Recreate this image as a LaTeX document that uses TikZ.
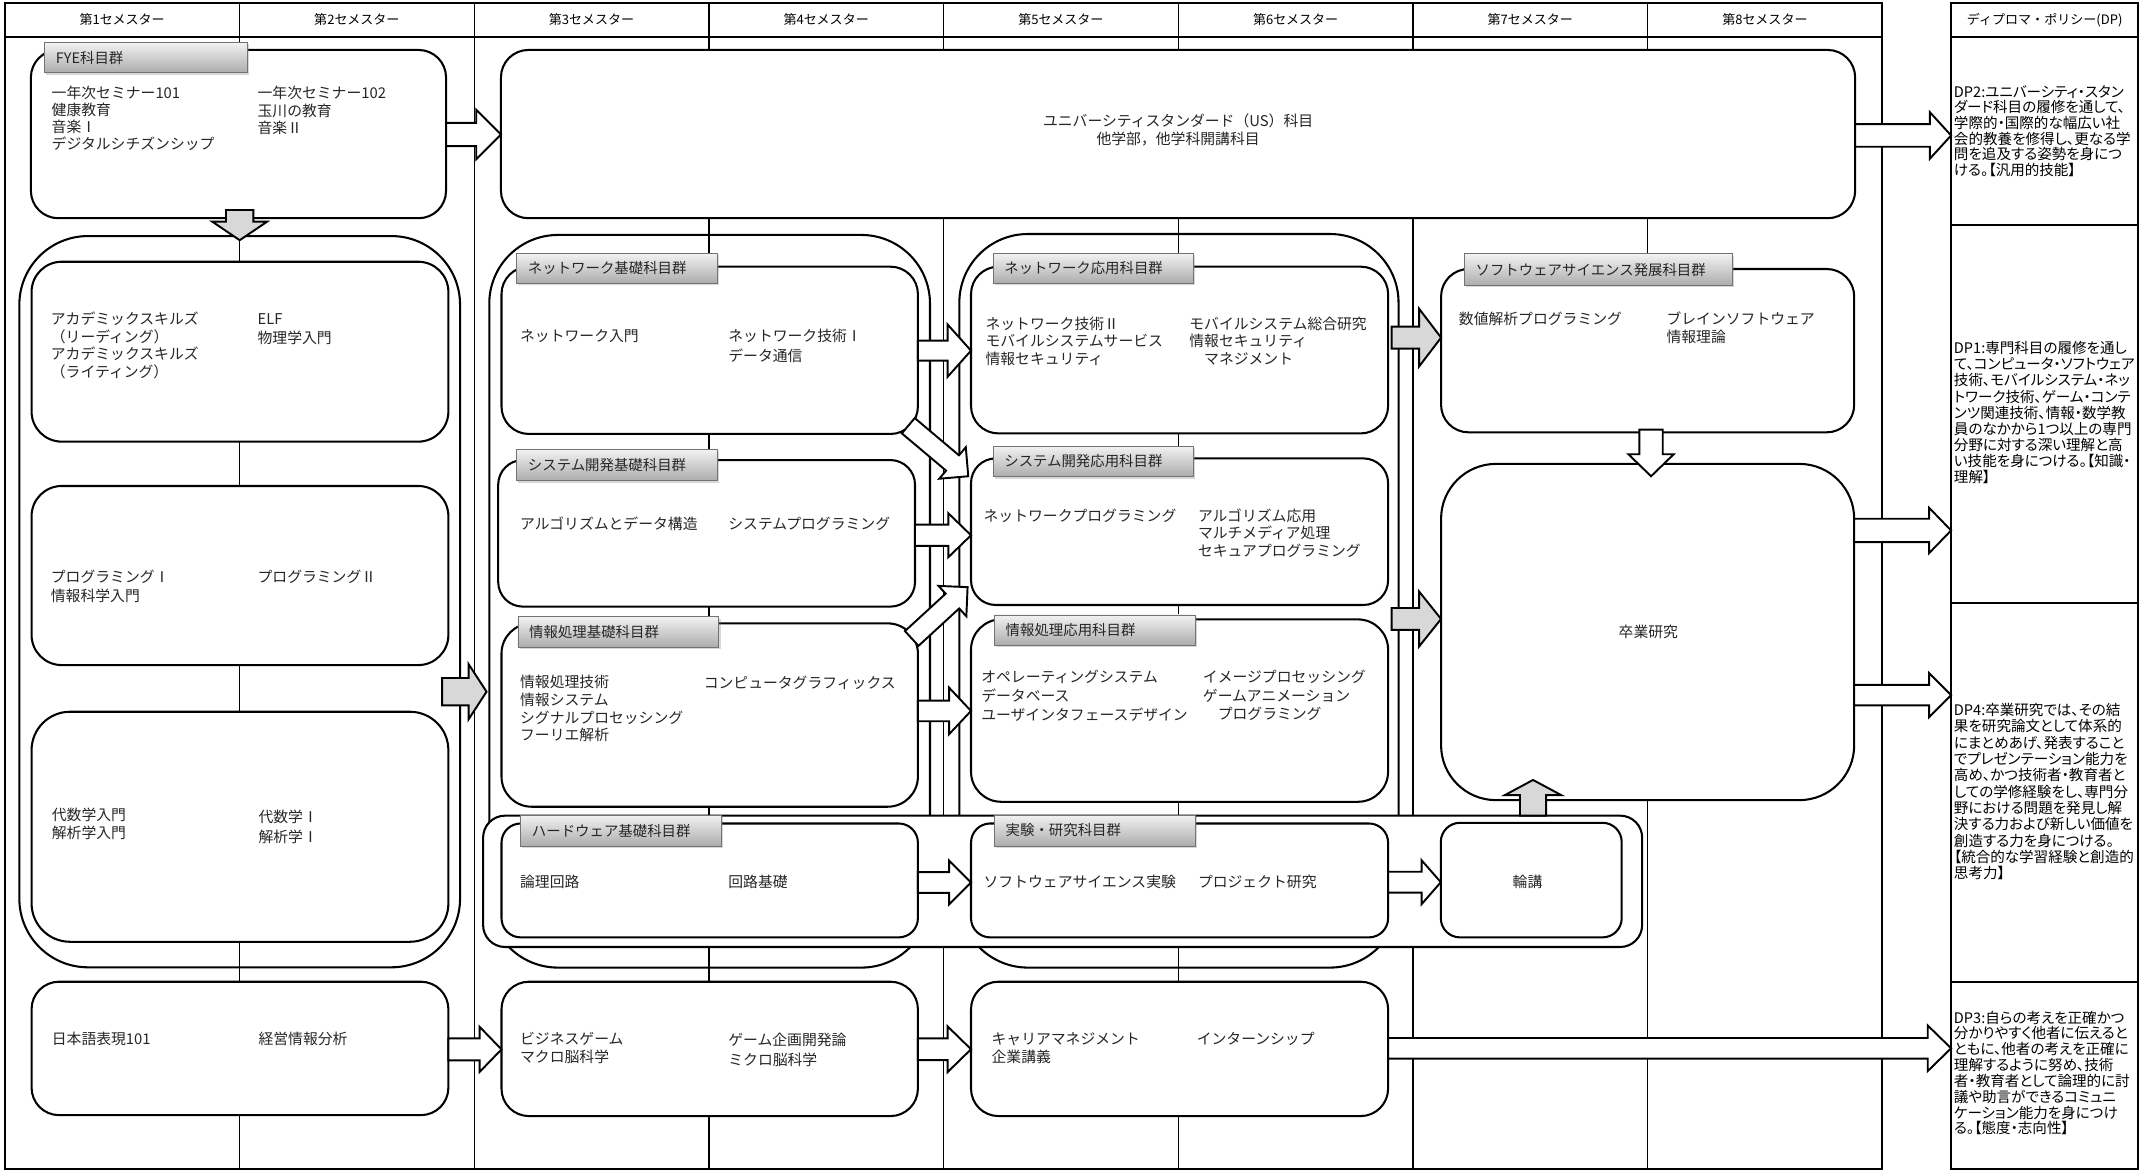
\documentclass[tikz,border=0pt]{standalone}
\usepackage{fontspec}
\setmainfont{Noto Sans CJK JP}
\newfontfamily\dpf{Noto Sans CJK JP}[RawFeature=+palt]
\usetikzlibrary{calc,shadows}
\definecolor{agray}{RGB}{216,216,216}
\definecolor{tabtop}{RGB}{242,242,242}
\definecolor{tabbot}{RGB}{172,172,172}
% block arrow: fill, from, to, shaft half width, head half width, head length
\newcommand\barrow[6]{%
  \coordinate (ba) at (#2);
  \coordinate (bb) at (#3);
  \coordinate (bc) at ($(bb)!#6pt!(ba)$);
  \draw[blockarrow, fill=#1]
    ($(ba)!#4pt!90:(bb)$) -- ($(bc)!#4pt!90:(bb)$) -- ($(bc)!#5pt!90:(bb)$) -- (bb)
    -- ($(bc)!#5pt!-90:(bb)$) -- ($(bc)!#4pt!-90:(bb)$) -- ($(ba)!#4pt!-90:(bb)$) -- cycle;
}
% rounded box: [style]{name}{x1}{y1}{x2}{y2}{radius}
\newcommand\rbox[7][cbox]{%
  \node[#1, rounded corners=#7pt, minimum width={(#5-#3)*1pt}, minimum height={(#6-#4)*1pt}, anchor=north west] (#2) at (#3,#4) {};
}
% plain cell
\newcommand\cell[5]{%
  \node[dpcell, minimum width={(#4-#2)*1pt}, minimum height={(#5-#3)*1pt}, anchor=north west] (#1) at (#2,#3) {};
}
% tab: name x1 y1 x2 y2 text
\newcommand\tabbox[6]{%
  \node[tabst, minimum width={(#4-#2)*1pt}, minimum height={(#5-#3)*1pt}, anchor=north west] (#1) at (#2,#3) {};
  \node[tabtxt] (#1t) at ($(#1.west)+(8,0)$) {#6};
}
\newcommand\tlines[5]{\foreach \s [count=\i] in {#5} {\node[course] (#1\i) at (#2,{#3+(\i-1)*#4+4.1}) {\s};}}
\newcommand\dplines[5]{\foreach \s [count=\i] in {#5} {\node[dptxt] (#1\i) at (#2,{#3+(\i-1)*#4+4.0}) {\s};}}

\begin{document}
\begin{tikzpicture}[x=1pt,y=-1pt,
  tbl/.style={line width=1.5pt},
  colline/.style={line width=1pt},
  cbox/.style={draw, line width=1.5pt, fill=white, inner sep=0pt, outer sep=0pt, rectangle},
  gbox/.style={draw, line width=1.5pt, inner sep=0pt, outer sep=0pt, rectangle},
  dpcell/.style={draw, line width=1.5pt, inner sep=0pt, outer sep=0pt, rectangle},
  tabst/.style={draw=black!55, line width=0.6pt, top color=tabtop, bottom color=tabbot, inner sep=0pt, outer sep=0pt, rectangle,
                drop shadow={shadow xshift=1.2pt, shadow yshift=-1.4pt, opacity=0.3}},
  tabtxt/.style={font=\fontsize{10.5}{12}\selectfont, inner sep=0pt, anchor=west, text=black!85},
  course/.style={font=\fontsize{10.8}{13}\selectfont, inner sep=0pt, anchor=base west, text=black!85},
  dptxt/.style={font=\dpf\fontsize{10.6}{12}\selectfont, inner sep=0pt, anchor=base west},
  hdr/.style={font=\fontsize{9.5}{11}\selectfont, inner sep=0pt},
  blockarrow/.style={draw=black, line width=1.4pt, line join=miter}
]
\fill[white] (0,0) rectangle (1568,853);
\useasboundingbox (0,0) rectangle (1568,853);

% ---------- table ----------
\draw[tbl] (3.5,2) rectangle (1371.5,852);
\draw[line width=1.6pt] (3.5,27) -- (1371.5,27);
\foreach \i in {1,...,7} \draw[colline] ({3.5+171*\i},2) -- ({3.5+171*\i},852);
\foreach \i in {1,...,8} \node[hdr] (h\i) at ({3.5+171*(\i-0.5)},14.5) {第\i セメスター};

% DP column
\cell{dph}{1421.6}{2}{1558}{27}
\cell{dp2}{1421.6}{27}{1558}{164}
\cell{dp1}{1421.6}{164}{1558}{439.6}
\cell{dp4}{1421.6}{439.6}{1558}{715.3}
\cell{dp3}{1421.6}{715.3}{1558}{852}
\node[hdr] (dphT) at (dph.center) {ディプロマ・ポリシー(DP)};

% ---------- group outlines ----------
\rbox[gbox]{grpL}{14.1}{172}{335.2}{704.8}{50}
\rbox[gbox]{grpM}{356.5}{171.2}{677.6}{705}{50}
\rbox[gbox]{grp56}{699}{170.5}{1019}{705}{50}
\rbox{band}{352}{594.3}{1196.5}{690}{16}

% ---------- boxes ----------
\rbox{fye}{22.5}{36.4}{325}{159}{20}
\rbox{us}{365}{36.4}{1351.7}{159}{20}
\rbox{acad}{23}{190.7}{326.7}{321.8}{22}
\rbox{prog}{23}{354.1}{326.7}{484.6}{22}
\rbox{math}{23}{518.6}{326.7}{686.2}{28}
\rbox{jp}{23}{715.3}{326.7}{812.5}{20}
\rbox{nwb}{365.4}{194.3}{668.8}{316.2}{20}
\rbox{sysb}{363}{335.2}{666.7}{442}{18}
\rbox{infob}{365.4}{454.2}{668.8}{587.8}{22}
\rbox{hw}{365.4}{600}{668.8}{683}{14}
\rbox{biz}{365.4}{715.3}{668.8}{813.2}{20}
\rbox{nwa}{707.5}{194.3}{1011.4}{315.8}{20}
\rbox{sysa}{707.5}{334}{1011.4}{440.8}{18}
\rbox{infoa}{707.5}{451.3}{1011.4}{584.2}{22}
\rbox{exp}{707.5}{600}{1011.4}{683}{14}
\rbox{career}{707.5}{715.3}{1011.4}{813.2}{20}
\rbox{sws}{1050}{196}{1351}{315}{20}
\rbox{grad}{1050}{338}{1351}{583}{40}
\rbox{rinko}{1049.8}{599.5}{1181.6}{683}{14}

% ---------- tabs ----------
\tabbox{tfye}{32.6}{31}{180}{53}{FYE科目群}
\tabbox{tnwb}{376.5}{184.6}{522.9}{206.4}{ネットワーク基礎科目群}
\tabbox{tsysb}{376.5}{327.4}{522.9}{350.2}{システム開発基礎科目群}
\tabbox{tinfb}{377.4}{449.3}{523.8}{471.7}{情報処理基礎科目群}
\tabbox{thw}{379.4}{593.9}{525.6}{616.4}{ハードウェア基礎科目群}
\tabbox{tnwa}{723.6}{184.6}{869.6}{206.4}{ネットワーク応用科目群}
\tabbox{tsysa}{723.6}{325}{869.6}{347.3}{システム開発応用科目群}
\tabbox{tinfa}{724.6}{448.1}{871}{470}{情報処理応用科目群}
\tabbox{texp}{724.6}{593.9}{871}{616.4}{実験・研究科目群}
\tabbox{tsws}{1067}{185}{1262}{208}{ソフトウェアサイエンス発展科目群}

% ---------- texts ----------
\tlines{fyeA}{37.5}{68}{12.3}{一年次セミナー101, 健康教育, 音楽Ⅰ, デジタルシチズンシップ}
\tlines{fyeB}{187.5}{68}{12.6}{一年次セミナー102, 玉川の教育, 音楽Ⅱ}
\node[course, anchor=base] (usA) at (858.4,{88+4.1}) {ユニバーシティスタンダード（US）科目};
\node[course, anchor=base] (usB) at (858.4,{101+4.1}) {他学部，他学科開講科目};
\tlines{acA}{36.9}{232.7}{12.7}{アカデミックスキルズ, （リーディング）, アカデミックスキルズ, （ライティング）}
\tlines{acB}{187.5}{232.7}{13.3}{ELF, 物理学入門}
\tlines{prA}{36.9}{420.2}{14.1}{プログラミングⅠ, 情報科学入門}
\tlines{prB}{187.5}{420.2}{13}{プログラミングⅡ}
\tlines{maA}{37.6}{593.9}{12.8}{代数学入門, 解析学入門}
\tlines{maB}{188.2}{595.1}{14.5}{代数学Ⅰ, 解析学Ⅰ}
\tlines{jpA}{37.6}{757.3}{13}{日本語表現101}
\tlines{jpB}{188.2}{757.3}{13}{経営情報分析}
\tlines{nwbA}{378.8}{244.8}{13}{ネットワーク入門}
\tlines{nwbB}{530.5}{244.8}{14.6}{ネットワーク技術Ⅰ, データ通信}
\tlines{sysbA}{378.8}{381.8}{13}{アルゴリズムとデータ構造}
\tlines{sysbB}{530.5}{381.8}{13}{システムプログラミング}
\tlines{infbA}{378.8}{496.7}{13}{情報処理技術, 情報システム, シグナルプロセッシング, フーリエ解析}
\tlines{infbB}{512.6}{497.9}{13}{コンピュータグラフィックス}
\tlines{hwA}{378.8}{642.4}{13}{論理回路}
\tlines{hwB}{530.5}{642.4}{13}{回路基礎}
\tlines{bizA}{378.8}{757.3}{13.1}{ビジネスゲーム, マクロ脳科学}
\tlines{bizB}{530.5}{757.8}{14.6}{ゲーム企画開発論, ミクロ脳科学}
\tlines{nwaA}{717.9}{236}{12.6}{ネットワーク技術Ⅱ, モバイルシステムサービス, 情報セキュリティ}
\tlines{nwaB}{866.4}{236}{12.6}{モバイルシステム総合研究, 情報セキュリティ, 　マネジメント}
\tlines{sysaA}{716.5}{376}{13}{ネットワークプログラミング}
\tlines{sysaB}{872.7}{376}{12.6}{アルゴリズム応用, マルチメディア処理, セキュアプログラミング}
\tlines{infaA}{714.8}{493.5}{13.7}{オペレーティングシステム, データベース, ユーザインタフェースデザイン}
\tlines{infaB}{876.3}{493.5}{13.2}{イメージプロセッシング, ゲームアニメーション, 　プログラミング}
\tlines{expA}{716.5}{642.4}{13}{ソフトウェアサイエンス実験}
\tlines{expB}{872.7}{642.4}{13}{プロジェクト研究}
\tlines{carA}{722.3}{757.3}{13.1}{キャリアマネジメント, 企業講義}
\tlines{carB}{871.8}{757.3}{13}{インターンシップ}
\tlines{swsA}{1062.8}{232.7}{13}{数値解析プログラミング}
\tlines{swsB}{1214.1}{232.7}{13.1}{ブレインソフトウェア, 情報理論}
\node[course, anchor=base] (gradT) at (1201,{460.3+4.1}) {卒業研究};
\node[course, anchor=base] (rinkoT) at (1113,{642.4+4.1}) {輪講};

% DP texts
\dplines{dpTwo}{1423.5}{66.8}{11.4}{DP2:ユニバーシティ・スタン, ダード科目の履修を通して、, 学際的・国際的な幅広い社, 会的教養を修得し、更なる学, 問を追及する姿勢を身につ, ける。【汎用的技能】}
\dplines{dpOne}{1423.5}{253.6}{11.78}{DP1:専門科目の履修を通し, て、コンピュータ・ソフトウェア, 技術、モバイルシステム・ネッ, トワーク技術、ゲーム・コンテ, ンツ関連技術、情報・数学教, 員のなかから1つ以上の専門, 分野に対する深い理解と高, い技能を身につける。【知識・, 理解】}
\dplines{dpFour}{1423.5}{517.3}{11.9}{DP4:卒業研究では、その結, 果を研究論文として体系的, にまとめあげ、発表すること, でプレゼンテーション能力を, 高め、かつ技術者・教育者と, しての学修経験をし、専門分, 野における問題を発見し解, 決する力および新しい価値を, 創造する力を身につける。, 【統合的な学習経験と創造的, 思考力】}
\dplines{dpThree}{1423.5}{741.5}{11.53}{DP3:自らの考えを正確かつ, 分かりやすく他者に伝えると, ともに、他者の考えを正確に, 理解するように努め、技術, 者・教育者として論理的に討, 議や助言ができるコミュニ, ケーション能力を身につけ, る。【態度・志向性】}

% ---------- arrows ----------
\barrow{white}{fye.east |- 0,98}{us.west |- 0,98}{8.5}{18}{18}
\barrow{white}{us.east |- 0,98.7}{dp2.west |- 0,98.7}{8.2}{17}{15.5}
\barrow{agray}{$(grpL.north |- fye.south)+(0,-6)$}{$(grpL.north)+(0,3)$}{10}{20}{13.5}
\barrow{agray}{$(grpL.east |- 0,504)+(-13,0)$}{$(grpM.west |- 0,504)+(-2,0)$}{10}{20}{13}
\barrow{white}{jp.east |- 0,764.6}{biz.west |- 0,764.6}{8}{16.5}{16}
\barrow{white}{nwb.east |- 0,255.5}{nwa.west |- 0,255.5}{7.3}{19}{17}
\barrow{white}{$(nwb.south east)+(-7,-6)$}{$(sysa.north west)+(-2,13)$}{7.3}{15}{15}
\barrow{white}{sysb.east |- 0,390}{sysa.west |- 0,390}{7.7}{16}{16.5}
\barrow{white}{$(infob.north east)+(-4.5,11)$}{$(sysa.south west)+(-2.5,-13)$}{7.3}{15}{15}
\barrow{white}{infob.east |- 0,518}{infoa.west |- 0,518}{7.5}{17}{16}
\barrow{white}{hw.east |- 0,643}{exp.west |- 0,643}{7.6}{16}{16}
\barrow{white}{biz.east |- 0,764.5}{career.west |- 0,764.5}{7.9}{16.6}{17}
\barrow{agray}{$(grp56.east |- 0,246)+(-5,0)$}{sws.west |- 0,246}{8}{21}{16}
\barrow{agray}{$(grp56.east |- 0,451)+(-5,0)$}{grad.west |- 0,451}{8}{20}{16}
\barrow{white}{exp.east |- 0,642.8}{rinko.west |- 0,642.8}{7.6}{16}{14}
\barrow{white}{$(sws.south)+(2.5,-2)$}{$(grad.north -| sws.south)+(2.5,9)$}{8.5}{16.5}{16}
\barrow{agray}{$(band.north -| rinko.north)+(1.3,0)$}{$(grad.south -| rinko.north)+(1.3,-14.7)$}{9.5}{20.5}{11}
\barrow{white}{grad.east |- 0,386.5}{dp1.west |- 0,386.5}{8.5}{16.5}{16}
\barrow{white}{grad.east |- 0,506.5}{dp4.west |- 0,506.5}{7.5}{16}{16}
\barrow{white}{career.east |- 0,763.8}{dp3.west |- 0,763.8}{7.5}{16.6}{17}
\end{tikzpicture}
\end{document}
